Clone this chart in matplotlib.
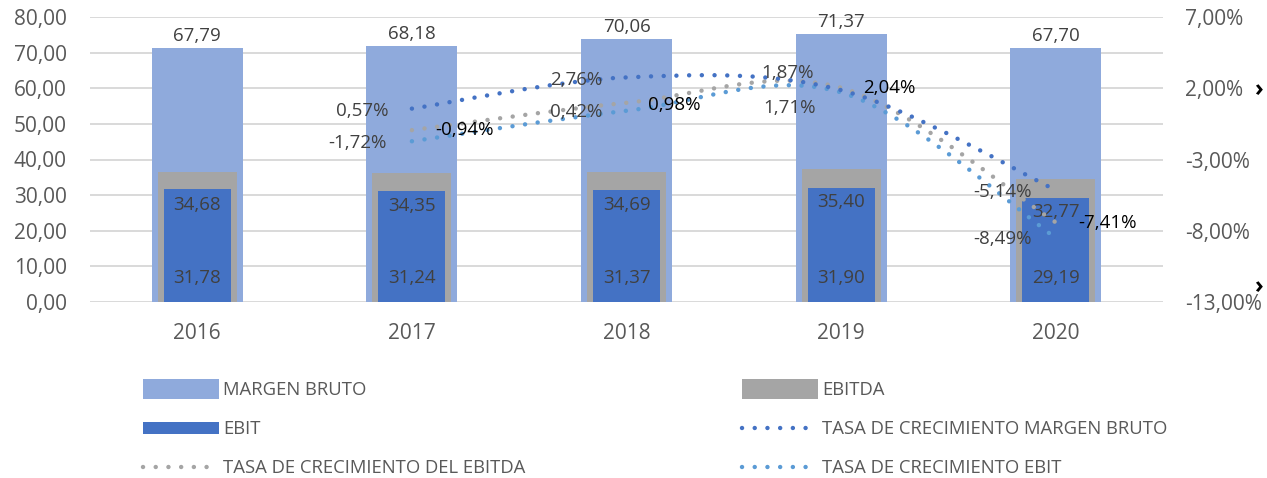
import matplotlib
matplotlib.use("Agg")
import matplotlib.pyplot as plt
import numpy as np
from matplotlib.path import Path
from matplotlib.patches import PathPatch, Rectangle, Patch
from matplotlib.lines import Line2D
from matplotlib.legend_handler import HandlerPatch
from matplotlib.ticker import FixedLocator, FuncFormatter

plt.rcParams['font.family'] = ['Open Sans', 'DejaVu Sans']

years = ['2016', '2017', '2018', '2019', '2020']
margen_bruto = [67.79, 68.18, 70.06, 71.37, 67.70]
ebitda = [34.68, 34.35, 34.69, 35.40, 32.77]
ebit = [31.78, 31.24, 31.37, 31.90, 29.19]
tasa_mb = [0.57, 2.76, 1.87, -5.14]      # % for 2017..2020
tasa_ebitda = [-0.94, 0.98, 2.04, -7.41]
tasa_ebit = [-1.72, 0.42, 1.71, -8.49]

C_MB = '#8FAADC'
C_EBITDA = '#A5A5A5'
C_EBIT = '#4472C4'
C_TMB = '#4472C4'
C_TEBITDA = '#A5A5A5'
C_TEBIT = '#5B9BD5'
TXT = '#595959'
LBL = '#404040'

PX = 0.72  # points per pixel at dpi 100

fig = plt.figure(figsize=(12.67, 4.78), dpi=100)
pos = [90/1267, 1 - 302/478, (1163-90)/1267, (302-17)/478]
ax = fig.add_axes(pos)          # left axis, gridlines
axh = ax.twinx()                # hidden scale for MB and EBITDA
axe = ax.twinx()                # EBIT on left scale
axr = ax.twinx()                # right axis, growth rates

x = np.arange(len(years))
xg = x[1:]

for a in (ax, axh, axe, axr):
    a.set_xlim(-0.5, 4.5)
    for s in a.spines.values():
        s.set_visible(False)
    a.patch.set_visible(False)

ax.set_ylim(0, 80)
axe.set_ylim(0, 80)
axh.set_ylim(0, 76)
axr.set_ylim(-13, 7)

ax.yaxis.set_major_locator(FixedLocator(np.arange(0, 81, 10)))
ax.yaxis.set_major_formatter(FuncFormatter(lambda v, p: f"{v:.2f}".replace('.', ',')))
ax.grid(axis='y', color='#D9D9D9', linewidth=1.4)
ax.set_axisbelow(True)
ax.tick_params(axis='y', length=0, pad=23*PX, labelsize=15, labelcolor=TXT)
ax.set_xticks(x)
ax.set_xticklabels(years)
ax.tick_params(axis='x', length=0, pad=15*PX + 4, labelsize=15, labelcolor=TXT)

axh.set_yticks([])
axe.set_yticks([])
axh.tick_params(axis='x', bottom=False, labelbottom=False)
axe.tick_params(axis='x', bottom=False, labelbottom=False)
axr.tick_params(axis='x', bottom=False, labelbottom=False)

axr.yaxis.set_major_locator(FixedLocator([-13, -8, -3, 2, 7]))
axr.yaxis.set_major_formatter(FuncFormatter(lambda v, p: f"{v:.2f}%".replace('.', ',')))
axr.tick_params(axis='y', length=0, pad=22*PX, labelsize=15, labelcolor=TXT)

# bars
axh.bar(x, margen_bruto, width=0.424, color=C_MB, zorder=1)
axh.bar(x, ebitda, width=0.368, color=C_EBITDA, zorder=2)
axe.bar(x, ebit, width=0.312, color=C_EBIT, zorder=3)

# bar labels
for i in range(len(years)):
    axh.annotate(f"{margen_bruto[i]:.2f}".replace('.', ','), (x[i], margen_bruto[i]),
                 xytext=(0, 12*PX), textcoords='offset points', ha='center', va='center',
                 fontsize=13.5, color=LBL)
    axe.annotate(f"{ebitda[i]:.2f}".replace('.', ','), (x[i], ebitda[i]), xycoords=axh.transData,
                 xytext=(0, -33*PX), textcoords='offset points', ha='center', va='center',
                 fontsize=13.5, color=LBL, zorder=10)
    axe.annotate(f"{ebit[i]:.2f}".replace('.', ','), (x[i], 0),
                 xytext=(0, 24*PX), textcoords='offset points', ha='center', va='center',
                 fontsize=13.5, color=LBL, zorder=10)


def smooth_patch(xs, ys, color):
    pts = np.column_stack([xs, ys]).astype(float)
    n = len(pts)
    verts = [pts[0]]
    codes = [Path.MOVETO]
    for i in range(n - 1):
        p0 = pts[i - 1] if i > 0 else pts[i]
        p1 = pts[i]
        p2 = pts[i + 1]
        p3 = pts[i + 2] if i + 2 < n else pts[i + 1]
        c1 = p1 + (p2 - p0) / 6.0
        c2 = p2 - (p3 - p1) / 6.0
        verts += [c1, c2, p2]
        codes += [Path.CURVE4] * 3
    return PathPatch(Path(verts, codes), fill=False, edgecolor=color, linewidth=3.2,
                     linestyle=(0, (0.01, 2.85)), capstyle='round', zorder=5)


axr.add_patch(smooth_patch(xg, tasa_ebitda, C_TEBITDA))
axr.add_patch(smooth_patch(xg, tasa_ebit, C_TEBIT))
axr.add_patch(smooth_patch(xg, tasa_mb, C_TMB))

fmtp = lambda v: f"{v:.2f}%".replace('.', ',')
off_mb = [(-50, -2), (-50, -3), (-54, 17), (-53, -2)]
off_ebitda = [(53, 0), (48, -2), (48, 0), (52, -1)]
off_ebit = [(-54, -2), (-50, -1), (-52, -16), (-53, -1)]
for j in range(len(xg)):
    axr.annotate(fmtp(tasa_mb[j]), (xg[j], tasa_mb[j]), xytext=(off_mb[j][0]*PX, off_mb[j][1]*PX),
                 textcoords='offset points', ha='center', va='center', fontsize=13.5, color=LBL, zorder=11)
    axr.annotate(fmtp(tasa_ebitda[j]), (xg[j], tasa_ebitda[j]),
                 xytext=(off_ebitda[j][0]*PX, off_ebitda[j][1]*PX),
                 textcoords='offset points', ha='center', va='center', fontsize=13.5, color='black', zorder=11)
    axr.annotate(fmtp(tasa_ebit[j]), (xg[j], tasa_ebit[j]), xytext=(off_ebit[j][0]*PX, off_ebit[j][1]*PX),
                 textcoords='offset points', ha='center', va='center', fontsize=13.5, color=LBL, zorder=11)

# chevrons near right axis
fig.text(1258/1267, 1 - 90/478, '\u203a', ha='center', va='center', fontsize=17,
         fontweight='bold', color='black')
fig.text(1258/1267, 1 - 287/478, '\u203a', ha='center', va='center', fontsize=17,
         fontweight='bold', color='black')


# legend
def make_rect(h_px):
    def f(legend, orig_handle, xdescent, ydescent, width, height, fontsize):
        h = h_px * PX
        return Rectangle((-xdescent, -ydescent + height / 2 - h / 2), width, h)
    return f


h_mb = Patch(facecolor=C_MB)
h_ebitda = Patch(facecolor=C_EBITDA)
h_ebit = Patch(facecolor=C_EBIT)
dots = dict(linewidth=3.2, linestyle=(0, (0.01, 2.85)), dash_capstyle='round')
h_tmb = Line2D([], [], color=C_TMB, **dots)
h_tebitda = Line2D([], [], color=C_TEBITDA, **dots)
h_tebit = Line2D([], [], color=C_TEBIT, **dots)

hmap = {h_mb: HandlerPatch(patch_func=make_rect(20)),
        h_ebitda: HandlerPatch(patch_func=make_rect(20)),
        h_ebit: HandlerPatch(patch_func=make_rect(12))}

common = dict(frameon=False, fontsize=13.3, handlelength=4.1, handletextpad=0.25,
              labelspacing=1.15, labelcolor=TXT, borderpad=0, borderaxespad=0,
              loc='upper left', handler_map=hmap)
leg1 = fig.legend([h_mb, h_ebit, h_tebitda],
                  ['MARGEN BRUTO', 'EBIT', 'TASA DE CRECIMIENTO DEL EBITDA'],
                  bbox_to_anchor=(143/1267, 1 - 381/478), **common)
leg2 = fig.legend([h_ebitda, h_tmb, h_tebit],
                  ['EBITDA', 'TASA DE CRECIMIENTO MARGEN BRUTO', 'TASA DE CRECIMIENTO EBIT'],
                  bbox_to_anchor=(742/1267, 1 - 381/478), **common)

fig.savefig('out.png', dpi=100)
